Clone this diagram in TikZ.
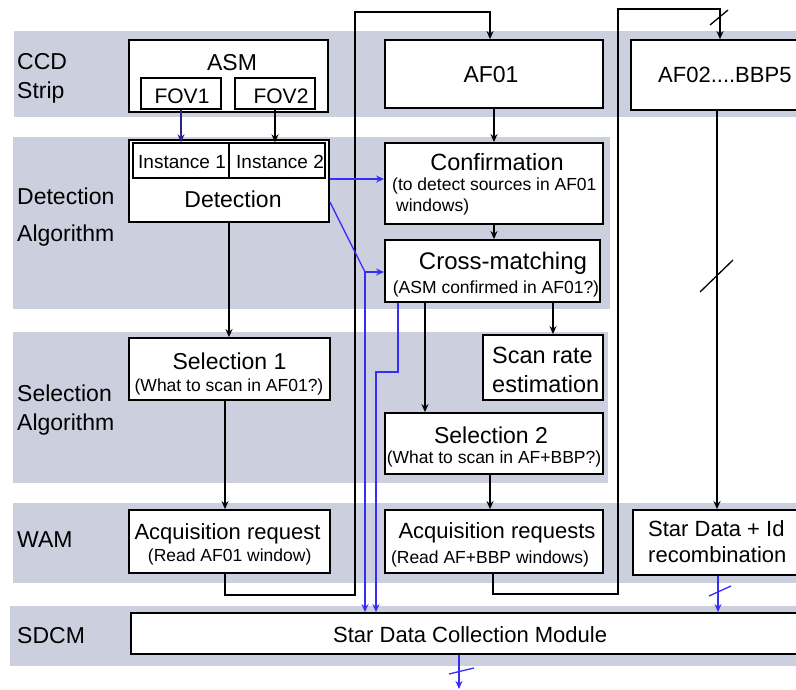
\documentclass[tikz,border=0pt]{standalone}
\usepackage{fontspec}
\setmainfont{Liberation Sans}
\usetikzlibrary{arrows.meta,fit,calc}
\definecolor{bandgray}{RGB}{204,208,222}
\definecolor{bluel}{RGB}{55,45,245}
\definecolor{navy}{RGB}{45,35,130}
\begin{document}
\begin{tikzpicture}[x=1pt,y=-1pt,
  band/.style={fill=bandgray,draw=none},
  box/.style={draw=black,line width=1.8pt,fill=white,inner sep=0pt},
  ibox/.style={draw=black,line width=1.3pt,fill=white,inner sep=0pt},
  conn/.style={draw=black,line width=1.3pt},
  arr/.style={conn,-{Stealth[length=8pt,width=7pt]}},
  bline/.style={draw=bluel,line width=1.3pt},
  barr/.style={bline,-{Stealth[length=8pt,width=7pt]}},
  ttl/.style={font=\fontsize{23}{27}\selectfont,inner sep=0pt,anchor=base},
  ttlw/.style={font=\fontsize{22}{26}\selectfont,inner sep=0pt,anchor=base west},
  sub/.style={font=\fontsize{17.5}{21}\selectfont,inner sep=0pt,anchor=base},
  subw/.style={font=\fontsize{17.5}{21}\selectfont,inner sep=0pt,anchor=base west},
  lbl/.style={font=\fontsize{23}{27}\selectfont,inner sep=0pt,anchor=base west}]
\useasboundingbox (0,0) rectangle (796,689);
\clip (0,0) rectangle (796,689);
\fill[white] (0,0) rectangle (796,689);
% bands
\fill[band] (14,31) rectangle (796,117);
\fill[band] (13,137) rectangle (610,309);
\fill[band] (13,332) rectangle (608,483);
\fill[band] (13,503) rectangle (796,583);
\fill[band] (10,606) rectangle (796,666);
% left labels
\node[lbl] (l1a) at (17,69) {CCD};
\node[lbl] (l1b) at (17,98) {Strip};
\node[lbl] (l2a) at (17,204) {Detection};
\node[lbl] (l2b) at (17,241) {Algorithm};
\node[lbl] (l3a) at (17,401) {Selection};
\node[lbl] (l3b) at (17,430) {Algorithm};
\node[lbl] (l4) at (17,547) {WAM};
\node[lbl] (l5) at (17,643) {SDCM};
% boxes
\node[box,fit={(129,40) (328,112)}] (asm) {};
\node[box,fit={(141,78) (221,109)}] (fov1) {};
\node[box,fit={(235,78) (315,109)}] (fov2) {};
\node[box,fit={(129,140) (329,222)}] (det) {};
\node[ibox,fit={(133,143) (229,178)}] (inst1) {};
\node[ibox,fit={(229,143) (325,178)}] (inst2) {};
\node[box,fit={(385,40) (603,108)}] (af01) {};
\node[box,fit={(631,40) (830,110)}] (af02) {};
\node[box,fit={(385,143) (603,224)}] (conf) {};
\node[box,fit={(385,240) (600,302)}] (cross) {};
\node[box,fit={(129,338) (330,400)}] (sel1) {};
\node[box,fit={(483,335) (603,400)}] (scan) {};
\node[box,fit={(385,413) (603,474)}] (sel2) {};
\node[box,fit={(129,510) (330,573)}] (acq1) {};
\node[box,fit={(385,510) (603,573)}] (acq2) {};
\node[box,fit={(633,510) (830,575)}] (star) {};
\node[box,fit={(131,613) (830,654)}] (sdcm) {};
% helper coordinates
\coordinate (k225) at (225,0);
\coordinate (k425) at (425,0);
\coordinate (k490) at (490,0);
\coordinate (k493) at (493,0);
\coordinate (k553) at (553,0);
\coordinate (k717) at (717,0);
\coordinate (k718) at (718,0);
\coordinate (k459) at (459,0);
\coordinate (y179) at (0,179);
\coordinate (y202) at (0,202);
\coordinate (bj) at (365,272);
\coordinate (c2) at (398,372);
\coordinate (c3) at (376,372);
\coordinate (out) at (459,689);
% black connectors
\draw[arr,draw=navy] (fov1.south) -- (fov1.south |- inst1.north);
\draw[arr] (fov2.south) -- (fov2.south |- inst2.north);
\draw[arr] (det.south) -- (det.south |- sel1.north);
\draw[arr] (sel1.south -| k225) -- (acq1.north -| k225);
\draw[arr] (acq1.south -| k225) -- (225,595) -- (355,595) -- (355,12) -- (490,12) -- (af01.north -| 490,0);
\draw[arr] (af01.south) -- (af01.south |- conf.north);
\draw[arr] (conf.south) -- (conf.south |- cross.north);
\draw[arr] (cross.south -| k425) -- (sel2.north -| k425);
\draw[arr] (cross.south -| k553) -- (scan.north -| k553);
\draw[arr] (sel2.south -| k490) -- (acq2.north -| k490);
\draw[arr] (acq2.south -| k493) -- (493,594) -- (618,594) -- (618,9) -- (720,9) -- (af02.north -| 720,0);
\draw[conn] (710,25) -- (728,10);
\draw[arr] (af02.south -| k717) -- (star.north -| k717);
\draw[conn] (700,292) -- (733,260);
% blue connectors
\draw[barr] (det.east |- y179) -- (conf.west |- y179);
\draw[bline] (det.east |- y202) -- (bj);
\draw[barr] (bj) -- (cross.west |- bj);
\draw[barr] (bj) -- (sdcm.north -| bj);
\draw[barr] (cross.south -| c2) -- (c2) -- (c3) -- (sdcm.north -| c3);
\draw[barr] (star.south -| k718) -- (sdcm.north -| k718);
\draw[bline] (709,596) -- (731,586);
\draw[barr] (sdcm.south -| k459) -- (out);
\draw[bline] (449,674) -- (474,668);
% texts
\node[ttl] (tasm) at (232,70) {ASM};
\node[ttl,font=\fontsize{21}{25}\selectfont] (tfov1) at (182,103) {FOV1};
\node[ttl,font=\fontsize{21}{25}\selectfont] (tfov2) at (281,103) {FOV2};
\node[ttl,font=\fontsize{19}{23}\selectfont,anchor=base west] (ti1) at (138,168) {Instance 1};
\node[ttl,font=\fontsize{19}{23}\selectfont,anchor=base west] (ti2) at (236,168) {Instance 2};
\node[ttl] (tdet) at (233,207) {Detection};
\node[ttl] (taf01) at (491,82) {AF01};
\node[ttlw] (taf02) at (658,82) {AF02....BBP5};
\node[ttl,font=\fontsize{23.5}{27}\selectfont] (tconf) at (497,170) {Confirmation};
\node[subw] (tconf1) at (392,190) {(to detect sources in AF01};
\node[subw] (tconf2) at (396,211) {windows)};
\node[ttl,font=\fontsize{24}{28}\selectfont] (tcross) at (503,269) {Cross-matching};
\node[sub] (tcross1) at (496,293) {(ASM confirmed in AF01?)};
\node[ttl] (tsel1) at (229.5,369) {Selection 1};
\node[sub] (tsel1a) at (229,391) {(What to scan in AF01?)};
\node[ttl,font=\fontsize{23.5}{27}\selectfont,anchor=base west] (tscan1) at (492,363) {Scan rate};
\node[ttl,font=\fontsize{23.5}{27}\selectfont,anchor=base west] (tscan2) at (492,392) {estimation};
\node[ttl] (tsel2) at (491,443) {Selection 2};
\node[sub] (tsel2a) at (494,463) {(What to scan in AF+BBP?)};
\node[ttl,font=\fontsize{22}{26}\selectfont] (tacq1) at (227.5,539) {Acquisition request};
\node[sub] (tacq1a) at (229.7,561) {(Read AF01 window)};
\node[ttl,font=\fontsize{22}{26}\selectfont] (tacq2) at (497,538) {Acquisition requests};
\node[sub] (tacq2a) at (490,563) {(Read AF+BBP windows)};
\node[ttlw] (tstar1) at (648,536) {Star Data + Id};
\node[ttlw] (tstar2) at (648,562) {recombination};
\node[ttlw] (tsdcm) at (333,642) {Star Data Collection Module};
\end{tikzpicture}
\end{document}
